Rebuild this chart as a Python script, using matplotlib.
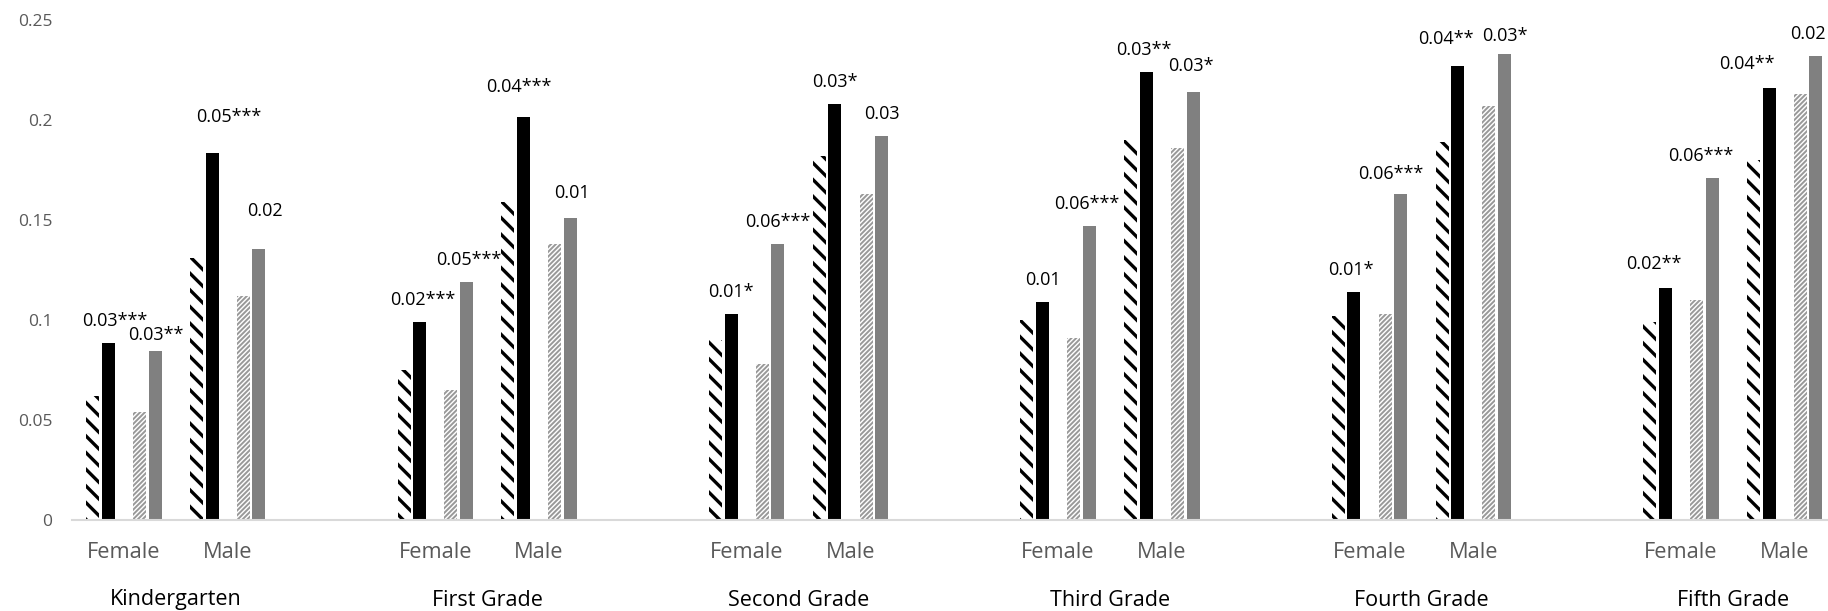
"""Barres groupées : quatre séries par sexe et par niveau scolaire."""

import matplotlib
matplotlib.use("Agg")
import matplotlib.pyplot as plt

plt.rcParams["font.family"] = ["Open Sans", "DejaVu Sans"]

grades = ["Kindergarten", "First Grade", "Second Grade",
          "Third Grade", "Fourth Grade", "Fifth Grade"]
sexes = ["Female", "Male"]

# une valeur par (niveau, sexe), dans l'ordre K-F, K-M, 1-F, 1-M, ...
black_hatched = [0.062, 0.131, 0.075, 0.159, 0.090, 0.182,
                 0.100, 0.190, 0.102, 0.189, 0.099, 0.180]
black_solid = [0.0885, 0.1835, 0.099, 0.2015, 0.103, 0.208,
               0.109, 0.224, 0.114, 0.227, 0.116, 0.216]
gray_hatched = [0.054, 0.112, 0.065, 0.138, 0.078, 0.163,
                0.091, 0.186, 0.103, 0.207, 0.110, 0.213]
gray_solid = [0.0845, 0.1355, 0.119, 0.151, 0.138, 0.192,
              0.147, 0.214, 0.163, 0.233, 0.171, 0.232]

black_labels = ["0.03***", "0.05***", "0.02***", "0.04***", "0.01*", "0.03*",
                "0.01", "0.03**", "0.01*", "0.04**", "0.02**", "0.04**"]
gray_labels = ["0.03**", "0.02", "0.05***", "0.01", "0.06***", "0.03",
               "0.06***", "0.03*", "0.06***", "0.03*", "0.06***", "0.02"]

yticks = [0, 0.05, 0.1, 0.15, 0.2, 0.25]
ytick_labels = ["0", "0.05", "0.1", "0.15", "0.2", "0.25"]

# décalage des étiquettes (px) : certaines ont été déplacées à la main
black_lab_dx = [6, 17, 3, -5, 0, 0, 0, -3, -3, -12, -12, -22]
black_lab_dy = [22, 36, 22, 30, 22, 22, 22, 22, 22, 27, 24, 24]
gray_lab_dx = [1, 6, 2, 2, 0, 0, -2, -2, -10, 0, -11, -8]
gray_lab_dy = [16, 38, 22, 25, 22, 22, 22, 26, 20, 18, 22, 22]

W, H = 1828, 611
fig = plt.figure(figsize=(W / 100, H / 100), dpi=100)
# zone de tracé en pixels : gauche 72, base 520, haut 20
ax = fig.add_axes([72 / W, 1 - 520 / H, (W - 72) / W, 500 / H])

slot_px = 103.8
ax.set_xlim(-0.5, -0.5 + (W - 72) / slot_px)
ax.set_ylim(0, 0.25)

# créneaux : F, M puis un vide entre niveaux
slots = [3 * g + s for g in range(len(grades)) for s in range(len(sexes))]
width = 0.125
offsets = [-0.30, -0.15, 0.15, 0.30]


def barres(vals, off, **kw):
    hlw = kw.pop("hatch_lw", None)
    if hlw is not None:
        with plt.rc_context({"hatch.linewidth": hlw}):
            bars = ax.bar([x + off for x in slots], vals, width=width, **kw)
        for b in bars:
            if hasattr(b, "set_hatch_linewidth"):
                b.set_hatch_linewidth(hlw)
    else:
        bars = ax.bar([x + off for x in slots], vals, width=width, **kw)
    return bars


barres(black_hatched, offsets[0], facecolor="white", edgecolor="black",
       hatch="\\\\", linewidth=0, hatch_lw=2.4)
b_solid = barres(black_solid, offsets[1], color="black", linewidth=0)
barres(gray_hatched, offsets[2], facecolor="white", edgecolor="#999999",
       hatch="///////", linewidth=0, hatch_lw=1.4)
g_solid = barres(gray_solid, offsets[3], color="#808080", linewidth=0)

for bars, labels, dxs, dys in ((b_solid, black_labels, black_lab_dx, black_lab_dy),
                               (g_solid, gray_labels, gray_lab_dx, gray_lab_dy)):
    for b, lab, dx, dy in zip(bars, labels, dxs, dys):
        ax.annotate(lab, (b.get_x() + b.get_width() / 2, b.get_height()),
                    xytext=(dx, dy), textcoords="offset pixels",
                    ha="center", va="center", fontsize=13, color="black",
                    clip_on=False)

for sp in ("top", "right", "left"):
    ax.spines[sp].set_visible(False)
ax.spines["bottom"].set_color("#d9d9d9")
ax.spines["bottom"].set_linewidth(1.5)

ax.set_yticks(yticks)
ax.set_yticklabels(ytick_labels, fontsize=12.5, color="#595959")
ax.tick_params(axis="y", length=0, pad=14)
ax.set_xticks([])

trans = ax.get_xaxis_transform()
for i, x in enumerate(slots):
    ax.text(x, -33 / 500, sexes[i % 2], transform=trans, ha="center",
            va="center", fontsize=15.7, color="#595959")
for g, name in enumerate(grades):
    ax.text(3 * g + 0.5, -80 / 500, name, transform=trans, ha="center",
            va="center", fontsize=15.5, color="black")

fig.savefig("out.png", dpi=100)
